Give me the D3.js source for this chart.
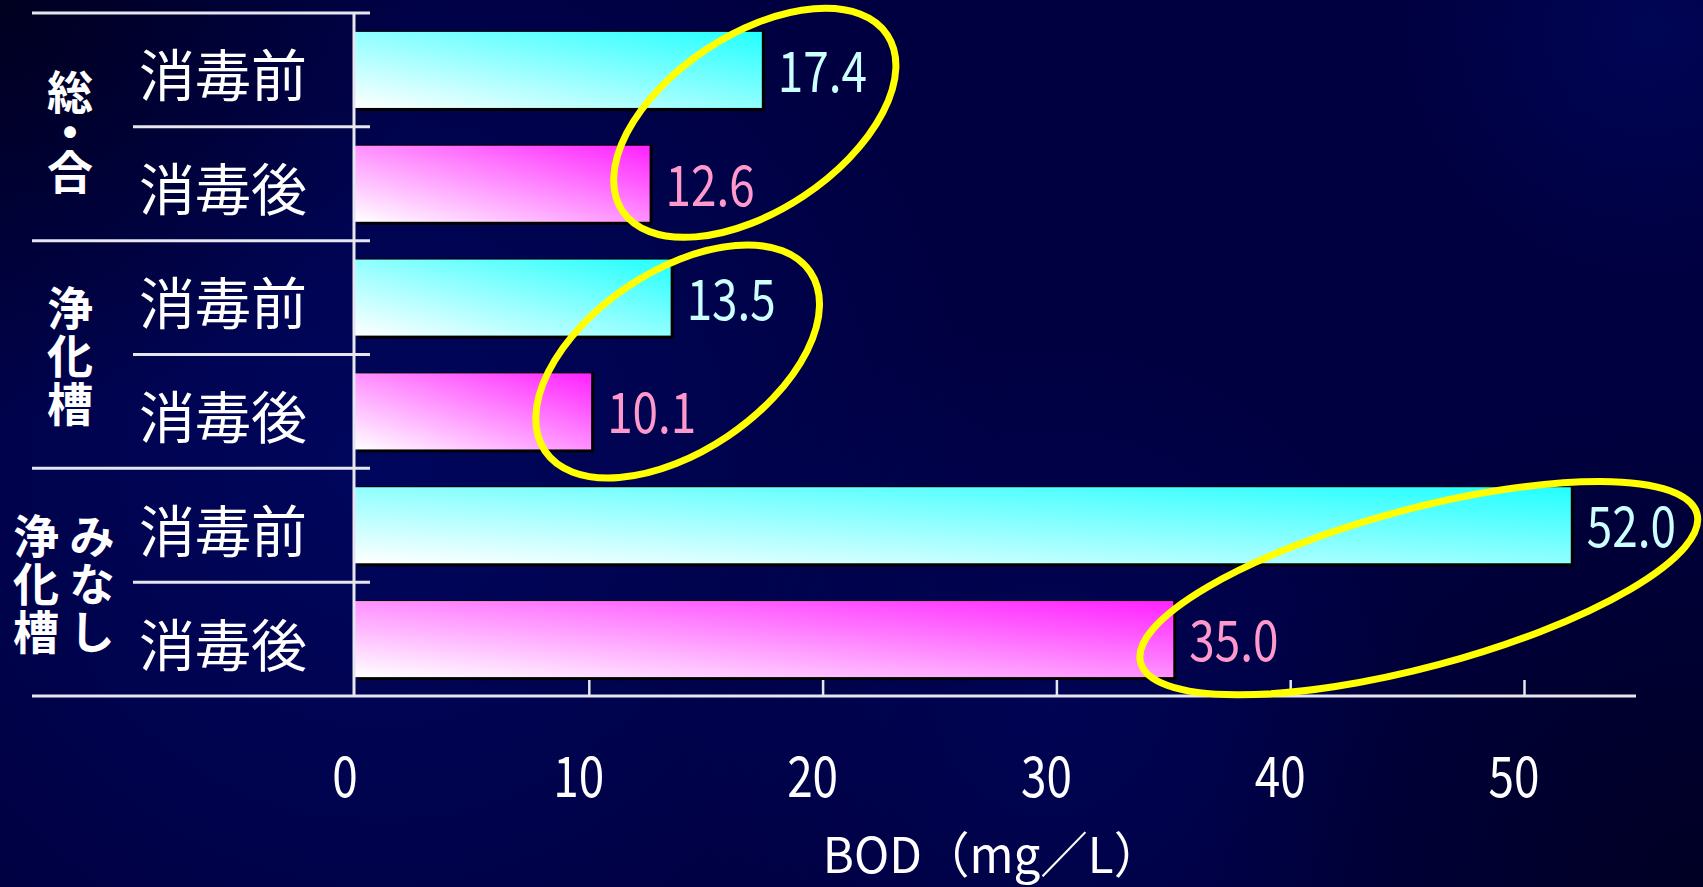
<!DOCTYPE html>
<html>
<head>
<meta charset="utf-8">
<script src="https://cdn.jsdelivr.net/npm/d3@7"></script>
<style>
  html, body { margin: 0; padding: 0; background: #000040; overflow: hidden; }
  svg { display: block; }
  text { font-family: "Noto Sans CJK JP", "Noto Sans", sans-serif; }
  .vert { writing-mode: vertical-rl; }
</style>
</head>
<body>
<div id="chart"></div>
<script>

// data
var groups = [ "総・合", "浄化槽", "みなし浄化槽" ];
var stages = [ "消毒前", "消毒後" ];
var values = [ 17.4, 12.6, 13.5, 10.1, 52.0, 35.0 ];
var xTicks = [ 0, 10, 20, 30, 40, 50 ];
var axisTitle = "BOD（mg／L）";

// vertical group captions, columns from right to left
var groupColumns = [ [ "総・合" ], [ "浄化槽" ], [ "みなし", "浄化槽" ] ];

var W = 1703, H = 887;

var svg = d3.select("#chart").append("svg")
		.attr("width", W).attr("height", H);

var defs = svg.append("defs");

// background: dark navy with a few soft bluer patches
function glow(id, cx, cy, r, color, op) {
	var g = defs.append("radialGradient").attr("id", id)
			.attr("gradientUnits", "userSpaceOnUse")
			.attr("cx", cx).attr("cy", cy).attr("r", r);
	g.append("stop").attr("offset", 0).attr("stop-color", color).attr("stop-opacity", op);
	g.append("stop").attr("offset", 1).attr("stop-color", color).attr("stop-opacity", 0);
	svg.append("rect").attr("width", W).attr("height", H).attr("fill", "url(#" + id + ")");
}

svg.append("rect").attr("width", W).attr("height", H).attr("fill", "#000040");
glow("bg1", 380, 470, 620, "#000a70", 0.6);
glow("bg2", 1050, 700, 380, "#00086a", 0.45);
glow("bg3", 1650, 30, 260, "#000a6a", 0.5);
glow("bg4", 0, 0, 420, "#000018", 0.8);
glow("bg5", 1703, 887, 500, "#000018", 0.7);

// bar fills, white at bottom-left to colour at top-right
var barColors = [ "#22ffff", "#ff22ff" ];
var labelColors = [ "#ccffff", "#ff99cc" ];
barColors.forEach(function(c, i) {
	var g = defs.append("linearGradient").attr("id", "bar" + i)
			.attr("x1", 0).attr("y1", 1).attr("x2", 1).attr("y2", 0);
	g.append("stop").attr("offset", 0).attr("stop-color", "#ffffff");
	g.append("stop").attr("offset", 1).attr("stop-color", c);
});

var rows = [];
groups.forEach(function(g, gi) {
	stages.forEach(function(s, si) {
		rows.push({ key : g + "-" + s, group : gi, stage : si,
			label : s, value : values[gi * stages.length + si] });
	});
});

var x = d3.scaleLinear().domain([ 0, 50 ]).range([ 355, 1524 ]);
var y = d3.scaleBand().domain(rows.map(function(d) { return d.key; }))
		.range([ 13, 696 ]).paddingInner(0.332).paddingOuter(0.166);

var step = y.step();
var top0 = y.range()[0];
var lineColor = "#e6e6ee";

// category grid: horizontal rules on the left side
var grid = svg.append("g").attr("stroke", lineColor).attr("stroke-width", 3);
d3.range(rows.length + 1).forEach(function(i) {
	var yy = top0 + i * step;
	var isGroupEdge = i % stages.length === 0;
	var x1 = isGroupEdge ? 32 : 133;
	var x2 = (i === rows.length) ? 1636 : 370;
	grid.append("line").attr("x1", x1).attr("x2", x2)
			.attr("y1", yy).attr("y2", yy);
});

// bars
var bars = svg.append("g");
bars.selectAll(".shadow").data(rows).enter().append("rect")
		.attr("class", "shadow")
		.attr("x", x(0) + 3)
		.attr("y", function(d) { return y(d.key) - 1; })
		.attr("width", function(d) { return x(d.value) - x(0); })
		.attr("height", y.bandwidth() + 4)
		.attr("fill", "#000000");
bars.selectAll(".bar").data(rows).enter().append("rect")
		.attr("class", "bar")
		.attr("x", x(0))
		.attr("y", function(d) { return y(d.key); })
		.attr("width", function(d) { return x(d.value) - x(0); })
		.attr("height", y.bandwidth())
		.attr("fill", function(d) { return "url(#bar" + d.stage + ")"; });

// value axis
var axis = svg.append("g").attr("transform", "translate(0,696)");
axis.call(d3.axisTop(x).tickValues(xTicks.slice(1)).tickSize(16).tickFormat(""));
axis.select(".domain").remove();
axis.selectAll(".tick line").attr("stroke", lineColor).attr("stroke-width", 2.5);

svg.append("line").attr("x1", 354).attr("x2", 354).attr("y1", 13).attr("y2", 697)
		.attr("stroke", lineColor).attr("stroke-width", 3);

function narrowText(sel, tx, ty, str, size, color, anchor, sx) {
	sel.append("g").attr("transform", "translate(" + tx + "," + ty + ") scale(" + sx + ",1)")
			.append("text").attr("text-anchor", anchor)
			.attr("font-size", size).attr("fill", color).text(str);
}

var tickLabels = svg.append("g");
xTicks.forEach(function(t) {
	narrowText(tickLabels, x(t) - 10, 797, t, 56, "#ffffff", "middle", 0.82);
});

narrowText(svg, 992, 873, axisTitle, 49, "#ffffff", "middle", 0.97);

// value labels
var vals = svg.append("g");
rows.forEach(function(d) {
	narrowText(vals, x(d.value) + 16, y(d.key) + y.bandwidth() / 2 + 22,
			d.value.toFixed(1), 56, labelColors[d.stage], "start", 0.82);
});

// stage labels
svg.append("g").selectAll("text").data(rows).enter().append("text")
		.attr("x", 223)
		.attr("y", function(d) { return y(d.key) + y.bandwidth() / 2 + 2; })
		.attr("dominant-baseline", "central")
		.attr("text-anchor", "middle")
		.attr("font-size", 56)
		.attr("fill", "#ffffff")
		.text(function(d) { return d.label; });

// vertical group captions
var caps = svg.append("g").attr("fill", "#ffffff").attr("font-weight", "bold")
		.attr("font-size", 46);
groupColumns.forEach(function(cols, gi) {
	var cy = top0 + (gi * stages.length + stages.length / 2) * step;
	var spacing = gi === 0 ? 40 : 48;
	var colX = cols.length === 1 ? [ 70 ] : [ 92, 36 ];
	cols.forEach(function(col, ci) {
		var n = Array.from(col).length;
		caps.append("text").attr("class", "vert")
				.attr("x", colX[ci])
				.attr("y", cy - (n * spacing) / 2 + 2)
				.attr("letter-spacing", spacing - 46)
				.text(col);
	});
});

// yellow rings round each pair of values
var rings = [
	{ group : 0, at : 17.1, dy : -4, rx : 159, ry : 88, angle : -33.6 },
	{ group : 1, at : 13.8, dy : 7, rx : 160, ry : 90, angle : -34 },
	{ group : 2, at : 45.5, dy : 6, rx : 288, ry : 79, angle : -15 }
];
svg.append("g").selectAll("ellipse").data(rings).enter().append("ellipse")
		.attr("transform", function(d) {
			var cy = top0 + (d.group * stages.length + stages.length / 2) * step + d.dy;
			return "translate(" + x(d.at) + "," + cy + ") rotate(" + d.angle + ")";
		})
		.attr("rx", function(d) { return d.rx; })
		.attr("ry", function(d) { return d.ry; })
		.attr("fill", "none")
		.attr("stroke", "#ffff00")
		.attr("stroke-width", 7);

</script>
</body>
</html>
